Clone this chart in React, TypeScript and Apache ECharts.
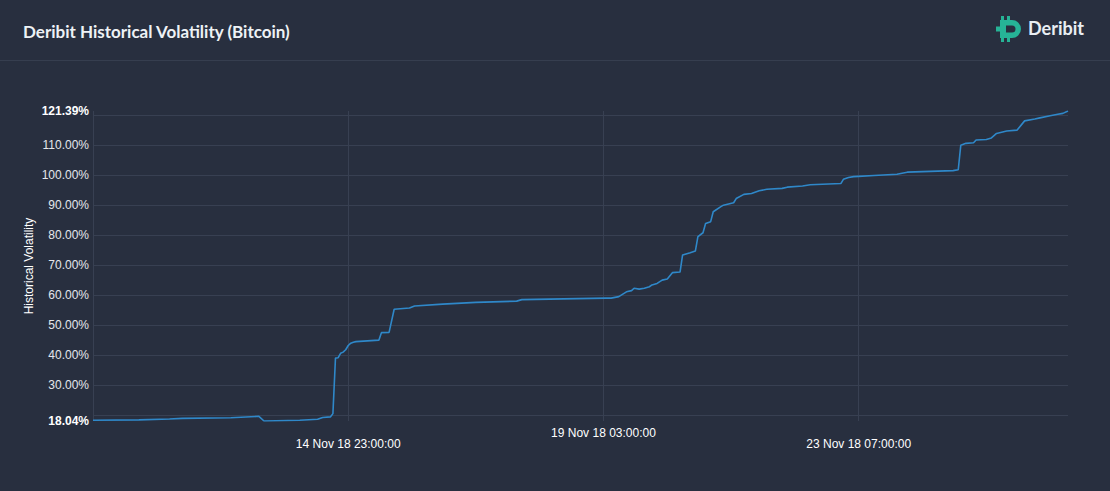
import React, { useEffect, useRef } from "react";
import * as echarts from "echarts";

// ---- data (UTC timestamps and historical volatility in %) ----
const TIMES: string[] = [
  "2018-11-10T19:00:00Z", "2018-11-11T13:00:00Z", "2018-11-12T01:00:00Z", "2018-11-12T06:00:00Z",
  "2018-11-13T01:00:00Z", "2018-11-13T12:00:00Z", "2018-11-13T14:00:00Z", "2018-11-14T04:00:00Z",
  "2018-11-14T11:00:00Z", "2018-11-14T13:00:00Z", "2018-11-14T16:00:00Z", "2018-11-14T17:00:00Z",
  "2018-11-14T18:00:00Z", "2018-11-14T19:00:00Z", "2018-11-14T20:00:00Z", "2018-11-14T21:00:00Z",
  "2018-11-14T22:00:00Z", "2018-11-14T23:00:00Z", "2018-11-15T00:00:00Z", "2018-11-15T01:00:00Z",
  "2018-11-15T02:00:00Z", "2018-11-15T11:00:00Z", "2018-11-15T12:00:00Z", "2018-11-15T15:00:00Z",
  "2018-11-15T17:00:00Z", "2018-11-15T23:00:00Z", "2018-11-16T01:00:00Z", "2018-11-16T12:00:00Z",
  "2018-11-17T01:00:00Z", "2018-11-17T17:00:00Z", "2018-11-17T19:00:00Z", "2018-11-19T04:00:00Z",
  "2018-11-19T06:00:00Z", "2018-11-19T09:00:00Z", "2018-11-19T12:00:00Z", "2018-11-19T14:00:00Z",
  "2018-11-19T15:00:00Z", "2018-11-19T17:00:00Z", "2018-11-19T19:00:00Z", "2018-11-19T21:00:00Z",
  "2018-11-19T22:00:00Z", "2018-11-20T00:00:00Z", "2018-11-20T02:00:00Z", "2018-11-20T04:00:00Z",
  "2018-11-20T06:00:00Z", "2018-11-20T09:00:00Z", "2018-11-20T10:00:00Z", "2018-11-20T13:00:00Z",
  "2018-11-20T15:00:00Z", "2018-11-20T16:00:00Z", "2018-11-20T18:00:00Z", "2018-11-20T19:00:00Z",
  "2018-11-20T21:00:00Z", "2018-11-20T22:00:00Z", "2018-11-21T01:00:00Z", "2018-11-21T02:00:00Z",
  "2018-11-21T06:00:00Z", "2018-11-21T07:00:00Z", "2018-11-21T10:00:00Z", "2018-11-21T13:00:00Z",
  "2018-11-21T16:00:00Z", "2018-11-21T19:00:00Z", "2018-11-22T01:00:00Z", "2018-11-22T03:00:00Z",
  "2018-11-22T09:00:00Z", "2018-11-22T12:00:00Z", "2018-11-23T00:00:00Z", "2018-11-23T01:00:00Z",
  "2018-11-23T03:00:00Z", "2018-11-23T05:00:00Z", "2018-11-23T07:00:00Z", "2018-11-23T13:00:00Z",
  "2018-11-23T22:00:00Z", "2018-11-24T02:00:00Z", "2018-11-24T20:00:00Z", "2018-11-24T22:00:00Z",
  "2018-11-24T23:00:00Z", "2018-11-25T01:00:00Z", "2018-11-25T04:00:00Z", "2018-11-25T05:00:00Z",
  "2018-11-25T09:00:00Z", "2018-11-25T11:00:00Z", "2018-11-25T13:00:00Z", "2018-11-25T17:00:00Z",
  "2018-11-25T21:00:00Z", "2018-11-26T00:00:00Z", "2018-11-26T04:00:00Z", "2018-11-26T06:00:00Z",
  "2018-11-26T10:00:00Z", "2018-11-26T13:00:00Z", "2018-11-26T15:00:00Z", "2018-11-26T17:00:00Z",
];

const VOLATILITY: number[] = [
  18.3, 18.4, 18.7, 18.9,
  19.1, 19.6, 18.04, 18.3,
  18.6, 19.2, 19.4, 20.5,
  39.0, 39.1, 40.6, 41.0,
  41.8, 43.2, 44.0, 44.3,
  44.5, 45.0, 47.5, 47.6,
  55.3, 55.7, 56.4, 57.0,
  57.6, 58.0, 58.5, 59.0,
  59.0, 59.5, 61.1, 61.5,
  62.3, 62.0, 62.3, 62.8,
  63.4, 63.9, 65.0, 65.4,
  67.5, 67.7, 73.4, 74.1,
  74.7, 79.5, 80.8, 83.9,
  84.5, 87.8, 89.5, 90.0,
  90.8, 92.2, 93.6, 93.9,
  94.8, 95.3, 95.6, 96.0,
  96.4, 96.8, 97.2, 98.6,
  99.2, 99.5, 99.6, 99.9,
  100.3, 101.0, 101.5, 101.8,
  110.0, 110.6, 110.8, 111.7,
  111.9, 112.4, 113.9, 114.7,
  115.0, 118.1, 118.7, 119.1,
  119.8, 120.3, 120.6, 121.39,
];

const Y_MIN = 18.04;
const Y_MAX = 121.39;
const X_TICK_HOURS = 100;
const MONTHS = ["Jan", "Feb", "Mar", "Apr", "May", "Jun", "Jul", "Aug", "Sep", "Oct", "Nov", "Dec"];

const TITLE = "Deribit Historical Volatility (Bitcoin)";
const BRAND = "Deribit";
const Y_NAME = "Historical Volatility";

const LOGO_PATH =
  "M5 0H8V4H5Z M11 0H14V4H11Z M5 22H8V26H5Z M11 22H14V26H11Z " +
  "M0 10.5H4V15.5H0Z " +
  "M4 4H16A9 9 0 0 1 16 22H4Z M10 9.5V16.5H16A3.5 3.5 0 0 0 16 9.5Z";

const pad = (n: number) => String(n).padStart(2, "0");
const fmtDate = (v: number) => {
  const d = new Date(v);
  return `${d.getUTCDate()} ${MONTHS[d.getUTCMonth()]} ${String(d.getUTCFullYear()).slice(2)} ${pad(
    d.getUTCHours()
  )}:${pad(d.getUTCMinutes())}:${pad(d.getUTCSeconds())}`;
};

let logoRegistered = false;

export default function App() {
  const ref = useRef<HTMLDivElement>(null);

  useEffect(() => {
    document.body.style.margin = "0";
    document.body.style.background = "#282f3f";
    if (!logoRegistered) {
      echarts.graphic.registerShape("deribitLogo", echarts.graphic.extendPath(LOGO_PATH, {}));
      logoRegistered = true;
    }
    const chart = echarts.init(ref.current!, null, { renderer: "svg" });
    const xMin = Date.parse(TIMES[0]);
    const xMax = Date.parse(TIMES[TIMES.length - 1]);
    const xInterval = X_TICK_HOURS * 3600 * 1000;
    const gridColor = "#384052";

    chart.setOption({
      animation: false,
      backgroundColor: "#282f3f",
      grid: { left: 93, right: 42, top: 111, bottom: 70, containLabel: false },
      graphic: [
        {
          type: "text",
          left: 23,
          top: 23,
          style: {
            text: TITLE,
            fill: "#eef2f6",
            font: "bold 17px Lato, 'Open Sans', sans-serif",
          },
        },
        {
          type: "line",
          shape: { x1: 0, y1: 60.5, x2: 1110, y2: 60.5 },
          style: { stroke: "#363e4f", lineWidth: 1 },
        },
        {
          type: "deribitLogo",
          x: 996,
          y: 16,
          style: { fill: "#26b396" },
        },
        {
          type: "text",
          left: 1028,
          top: 19,
          style: {
            text: BRAND,
            fill: "#e9eef3",
            font: "bold 18px Lato, 'Open Sans', sans-serif",
          },
        },
      ],
      xAxis: {
        type: "value",
        min: xMin,
        max: xMax,
        interval: xInterval,
        axisLine: { show: false },
        axisTick: { show: false },
        splitLine: { show: true, showMaxLine: false, lineStyle: { color: gridColor, width: 1 } },
        axisLabel: {
          showMinLabel: false,
          showMaxLabel: false,
          color: "#ffffff",
          fontSize: 12,
          lineHeight: 11,
          margin: 6,
          fontFamily: "'Liberation Sans', Arial, sans-serif",
          formatter: (v: number) => {
            const k = Math.round((v - xMin) / xInterval);
            const s = fmtDate(v);
            return k % 2 === 1 ? "\n" + s : s;
          },
        },
      },
      yAxis: {
        type: "value",
        min: Y_MIN,
        max: Y_MAX,
        splitNumber: 10,
        name: Y_NAME,
        nameLocation: "middle",
        nameRotate: 90,
        nameGap: 58,
        nameMoveOverlap: false,
        nameTextStyle: {
          color: "#ffffff",
          fontSize: 12,
          fontFamily: "'Liberation Sans', Arial, sans-serif",
        },
        axisLine: { show: false },
        axisTick: { show: false },
        splitLine: {
          show: true,
          showMinLine: false,
          showMaxLine: false,
          lineStyle: { color: gridColor, width: 1 },
        },
        axisLabel: {
          margin: 4,
          fontFamily: "'Liberation Sans', Arial, sans-serif",
          formatter: (v: number) => {
            const isExtreme = Math.abs(v - Y_MIN) < 1e-9 || Math.abs(v - Y_MAX) < 1e-9;
            if (isExtreme) return `{b|${v.toFixed(2)}%}`;
            if (v < Y_MIN + 5 || v > Y_MAX - 5) return "";
            return `{n|${v.toFixed(2)}%}`;
          },
          rich: {
            b: {
              color: "#ffffff",
              fontSize: 12,
              fontWeight: "bold",
              fontFamily: "'Liberation Sans', Arial, sans-serif",
            },
            n: {
              color: "#e4e7ec",
              fontSize: 12,
              fontFamily: "'Liberation Sans', Arial, sans-serif",
            },
          },
        },
      },
      series: [
        {
          type: "line",
          data: TIMES.map((t, i) => [Date.parse(t), VOLATILITY[i]]),
          showSymbol: false,
          lineStyle: { color: "#2f88c9", width: 1.6 },
          itemStyle: { color: "#2f88c9" },
        },
      ],
    });

    return () => chart.dispose();
  }, []);

  return <div ref={ref} style={{ width: 1110, height: 491 }} />;
}
